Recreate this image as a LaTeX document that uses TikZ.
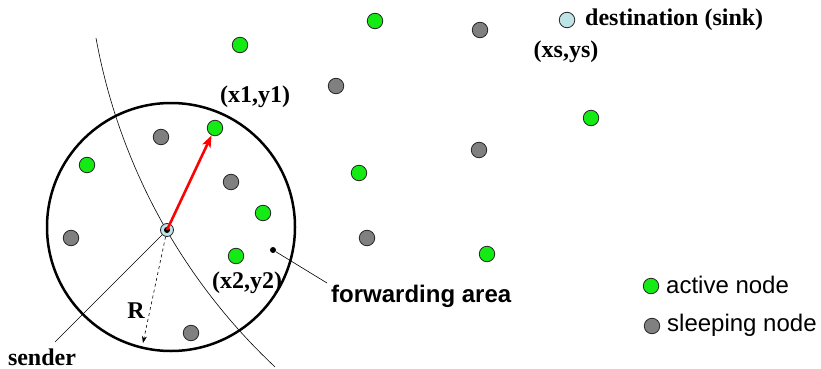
\documentclass[tikz,border=0pt]{standalone}
\usepackage{fontspec}
\setmainfont{Liberation Serif}
\setsansfont{Liberation Sans}
\usetikzlibrary{arrows.meta}
\definecolor{actgreen}{RGB}{20,235,20}
\definecolor{sleepgray}{RGB}{128,128,128}
\definecolor{sinkblue}{RGB}{190,228,232}
\begin{document}
\begin{tikzpicture}[x=1pt,y=-1pt,
  nd/.style={circle,draw=black!85,line width=0.8pt,minimum size=15.5pt,inner sep=0pt},
  act/.style={nd,fill=actgreen},
  slp/.style={nd,fill=sleepgray},
  lbl/.style={font=\fontsize{24}{27}\selectfont\bfseries,inner sep=0pt},
  sanslbl/.style={font=\sffamily\fontsize{24}{27}\selectfont,inner sep=0pt,anchor=west},
  sansbold/.style={font=\sffamily\bfseries\fontsize{24}{27}\selectfont,inner sep=0pt,anchor=west},
  thin/.style={line width=0.6pt}]
\useasboundingbox (0,0) rectangle (821,369);
% range circle
\draw[line width=2.5pt] (171,227) circle[radius=124];
% boundary arc
\coordinate (arcA) at (96,38);
\draw[thin] (arcA) arc[start angle=169.7, end angle=133.2, radius=597.7];
% nodes
\node[act] (g1) at (240,45) {};
\node[act] (g2) at (375,21) {};
\node[act] (n1) at (215,128) {};
\node[act] (g3) at (87,165) {};
\node[act] (g4) at (263,213) {};
\node[act] (n2) at (236,256) {};
\node[act] (g5) at (359,173) {};
\node[act] (g6) at (591,118) {};
\node[act] (g7) at (487,254) {};
\node[slp] (s1) at (480,30) {};
\node[slp] (s2) at (336,86) {};
\node[slp] (s3) at (161,137) {};
\node[slp] (s4) at (231,182) {};
\node[slp] (s5) at (71,238) {};
\node[slp] (s6) at (191,333) {};
\node[slp] (s7) at (479,150) {};
\node[slp] (s8) at (367,238) {};
% sink
\node[nd,fill=sinkblue] (sink) at (567,20) {};
\node[lbl,anchor=west] (sinklbl) at (585,20) {destination (sink)};
\node[lbl] (xs) at (566,52) {(xs,ys)};
% sender
\node[nd,fill=sinkblue,minimum size=13pt] (snd) at (167,230) {};
\fill (snd.center) circle[radius=3];
\node[lbl] (sndlbl) at (42,357) {sender};
\coordinate (sndend) at (55,342);
\draw[thin] (snd) -- (sndend);
% R
\coordinate (rend) at (143,343);
\draw[thin,dashed,-{Stealth[length=7pt,width=5pt]}] (snd) -- (rend);
\node[lbl] (R) at (136,311) {R};
% red arrow
\draw[red,line width=2.6pt,-{Stealth[length=12pt,width=9pt,inset=3pt]}] (snd.center) -- (n1);
\node[lbl] (x1) at (255,97) {(x1,y1)};
\node[lbl] (x2) at (247,283) {(x2,y2)};
% forwarding area
\node[circle,fill=black,inner sep=0pt,minimum size=6pt] (fa) at (273,250) {};
\node[sansbold] (falbl) at (331,296) {forwarding area};
\coordinate (faend) at (327,283);
\draw[thin] (fa) -- (faend);
% legend
\node[act] (la) at (651,286) {};
\node[sanslbl] (latxt) at (666,285) {active node};
\node[slp] (ls) at (652,326) {};
\node[sanslbl] (lstxt) at (667,325) {sleeping node};
\end{tikzpicture}
\end{document}
